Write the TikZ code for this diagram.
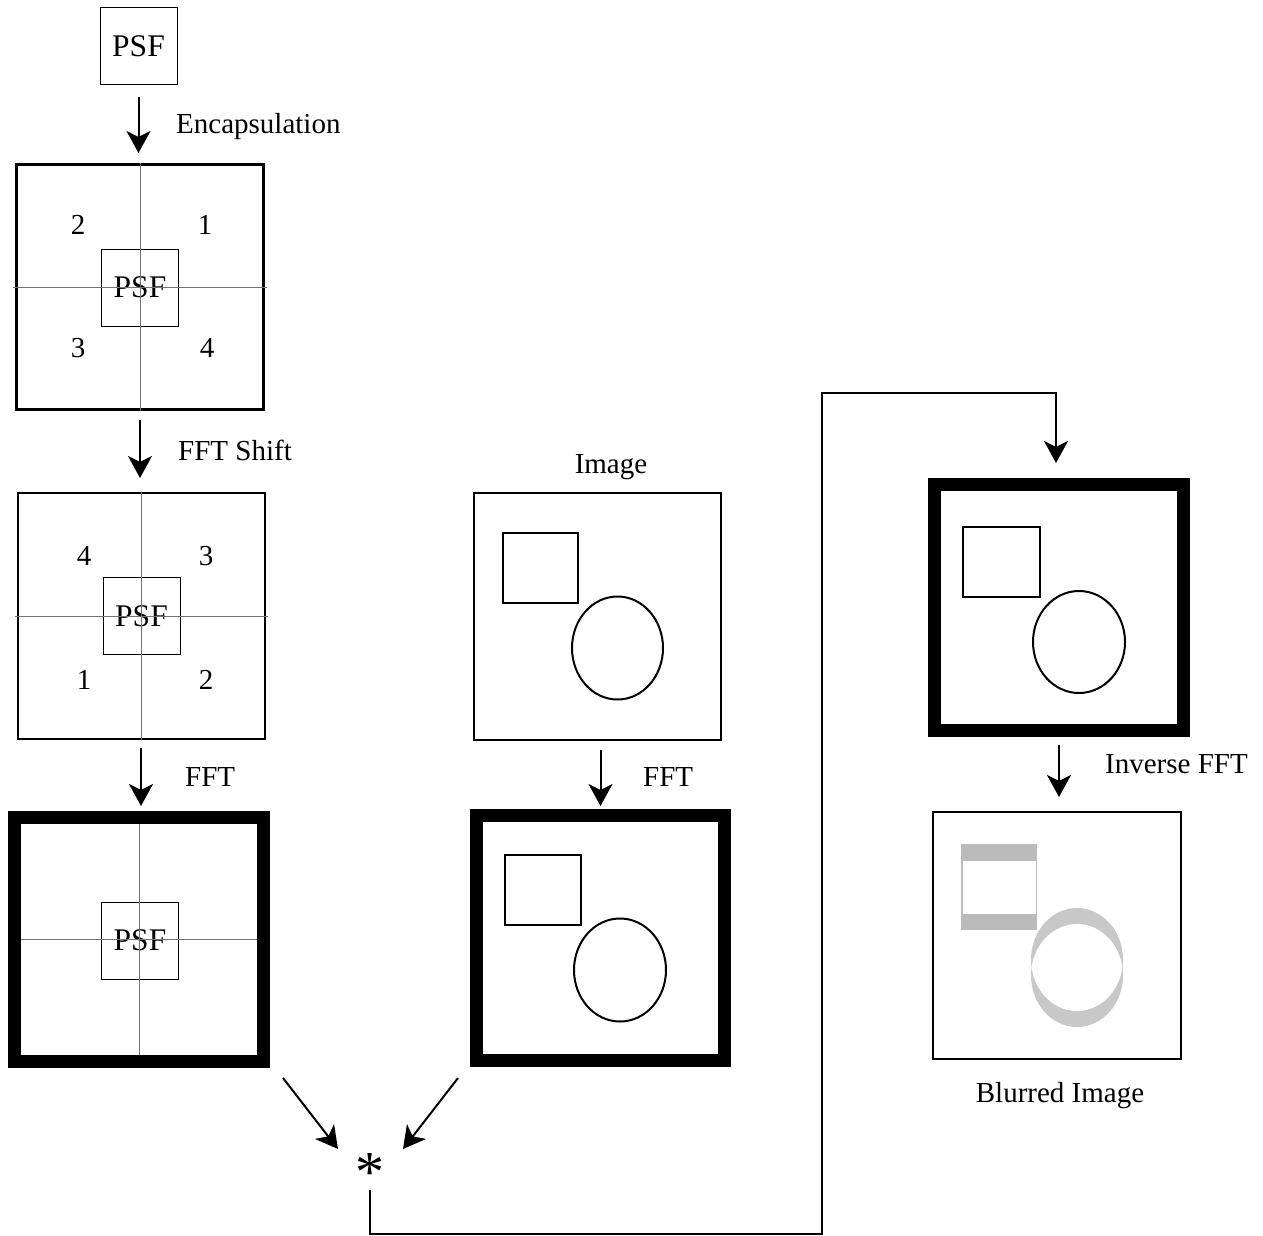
\documentclass[tikz,border=0pt]{standalone}
\usepackage{fontspec}
\setmainfont{Liberation Serif}
\usetikzlibrary{arrows.meta}
\definecolor{crossgray}{RGB}{115,115,115}
\definecolor{rectgray}{RGB}{187,187,187}
\definecolor{ellgray}{RGB}{200,200,200}
\begin{document}
\begin{tikzpicture}[x=1pt,y=-1pt,
  lbl/.style={font=\fontsize{29}{34}\selectfont, inner sep=0pt},
  framebox/.style={draw, line width=2pt, inner sep=0pt, outer sep=0pt, minimum width=247pt, minimum height=246pt},
  thickbox/.style={framebox, line width=13pt},
  psfbox/.style={draw, line width=1pt, inner sep=0pt, outer sep=0pt, minimum size=77pt, font=\fontsize{31.5}{36}\selectfont},
  cross/.style={draw=crossgray, line width=1pt},
  shapeline/.style={line width=2pt},
  arr/.style={line width=2pt, -{Stealth[length=22pt,width=24pt,inset=6pt]}},
  link/.style={line width=2pt}]
\useasboundingbox (0,0) rectangle (1263,1236);

% ---------- left column ----------
\node[psfbox] (psf0) at (138.5,46.5) {PSF};

\node[framebox, line width=3pt, minimum width=247pt, minimum height=245pt] (b1) at (140,287) {};
\node[psfbox] (p1) at (140,287.5) {PSF};
\draw[cross] ([xshift=-3.5pt]b1.west) -- ([xshift=3.5pt]b1.east);
\draw[cross] ([yshift=1.5pt]b1.north) -- ([yshift=-1.5pt]b1.south);
\node[lbl] (n12) at (78,225) {2};
\node[lbl] (n11) at (205,225) {1};
\node[lbl] (n13) at (78,348) {3};
\node[lbl] (n14) at (207,348) {4};

\node[framebox] (b2) at (141,616) {};
\node[psfbox] (p2) at (141.5,616) {PSF};
\draw[cross] ([xshift=-3pt]b2.west) -- ([xshift=3pt]b2.east);
\draw[cross] ([yshift=1pt]b2.north) -- ([yshift=-1pt]b2.south);
\node[lbl] (n24) at (84,556) {4};
\node[lbl] (n23) at (206,556) {3};
\node[lbl] (n21) at (84,680) {1};
\node[lbl] (n22) at (206,680) {2};

\node[thickbox, minimum width=249pt, minimum height=244pt] (b3) at (139,939) {};
\node[psfbox] (p3) at (140,940.5) {PSF};
\draw[cross, shorten <=6.5pt, shorten >=6.5pt] (b3.west) -- (b3.east);
\draw[cross, shorten <=6.5pt, shorten >=6.5pt] (b3.north) -- (b3.south);

\draw[arr, shorten <=12pt, shorten >=11.5pt] (psf0.south) -- (psf0.south |- b1.north);
\node[lbl, anchor=base west] (lenc) at (176,133) {Encapsulation};
\draw[arr, shorten <=10.5pt, shorten >=15pt] (b1.south) -- (b1.south |- b2.north);
\node[lbl, anchor=base west] (lshift) at (178,460) {FFT Shift};
\draw[arr, shorten <=9pt, shorten >=11pt] (b2.south) -- (b2.south |- b3.north);
\node[lbl, anchor=base west] (lfft1) at (185,786) {FFT};

% ---------- middle column ----------
\node[lbl, anchor=base] (limg) at (611,473) {Image};
\node[framebox, minimum width=247pt, minimum height=247pt] (img) at (597.5,616.5) {};
\draw[shapeline] (503,533) rectangle (578,603);
\draw[shapeline] (617.5,648) ellipse [x radius=45.5, y radius=51.5];

\node[thickbox, minimum width=248pt, minimum height=245pt] (fimg) at (600.5,938) {};
\draw[shapeline] (505,855) rectangle (581,925);
\draw[shapeline] (620,970) ellipse [x radius=46, y radius=51.5];

\draw[arr, shorten <=10pt, shorten >=9.5pt] (img.south -| fimg.north) -- (fimg.north);
\node[lbl, anchor=base west] (lfft2) at (643,786) {FFT};

% ---------- convolution ----------
\node[minimum width=50pt, inner sep=0pt, text height=52pt, text depth=0pt, font=\fontsize{58}{58}\selectfont] (conv) at (370,1165) {*};
\coordinate (s1) at (283,1078);
\coordinate (s2) at (458,1078);
\draw[arr] (s1) -- ([shift={(-32,-16)}]conv.center);
\draw[arr] (s2) -- ([shift={(33,-16)}]conv.center);

% ---------- right column ----------
\node[thickbox, minimum width=249pt, minimum height=246pt] (rbox) at (1059,607.5) {};
\draw[shapeline] (963,527) rectangle (1040,597);
\draw[shapeline] (1079,642) ellipse [x radius=46, y radius=51];

\draw[link, -{Stealth[length=22pt,width=24pt,inset=6pt]}, shorten <=-1pt, shorten >=21.5pt] (conv.south) |- (822,1234) -- (822,393) -| ([xshift=-3pt]rbox.north);

\node[framebox, line width=2.5pt, minimum width=248pt, minimum height=247pt] (blur) at (1057,935.5) {};
\fill[rectgray] (961,844) rectangle (1037,930);
\fill[white] (962.5,861) rectangle (1035.5,914);
\fill[ellgray] (1077,959.5) ellipse [x radius=46, y radius=51.5];
\fill[ellgray] (1077,975.5) ellipse [x radius=46, y radius=51.5];
\begin{scope}
  \clip (1077,959.5) ellipse [x radius=46, y radius=51.5];
  \fill[white] (1077,975.5) ellipse [x radius=46, y radius=51.5];
\end{scope}
\node[lbl, anchor=base] (lblur) at (1060,1102) {Blurred Image};

\draw[arr, shorten <=14.5pt, shorten >=15pt] (rbox.south) -- (rbox.south |- blur.north);
\node[lbl, anchor=base west] (linv) at (1105,773) {Inverse FFT};
\end{tikzpicture}
\end{document}
